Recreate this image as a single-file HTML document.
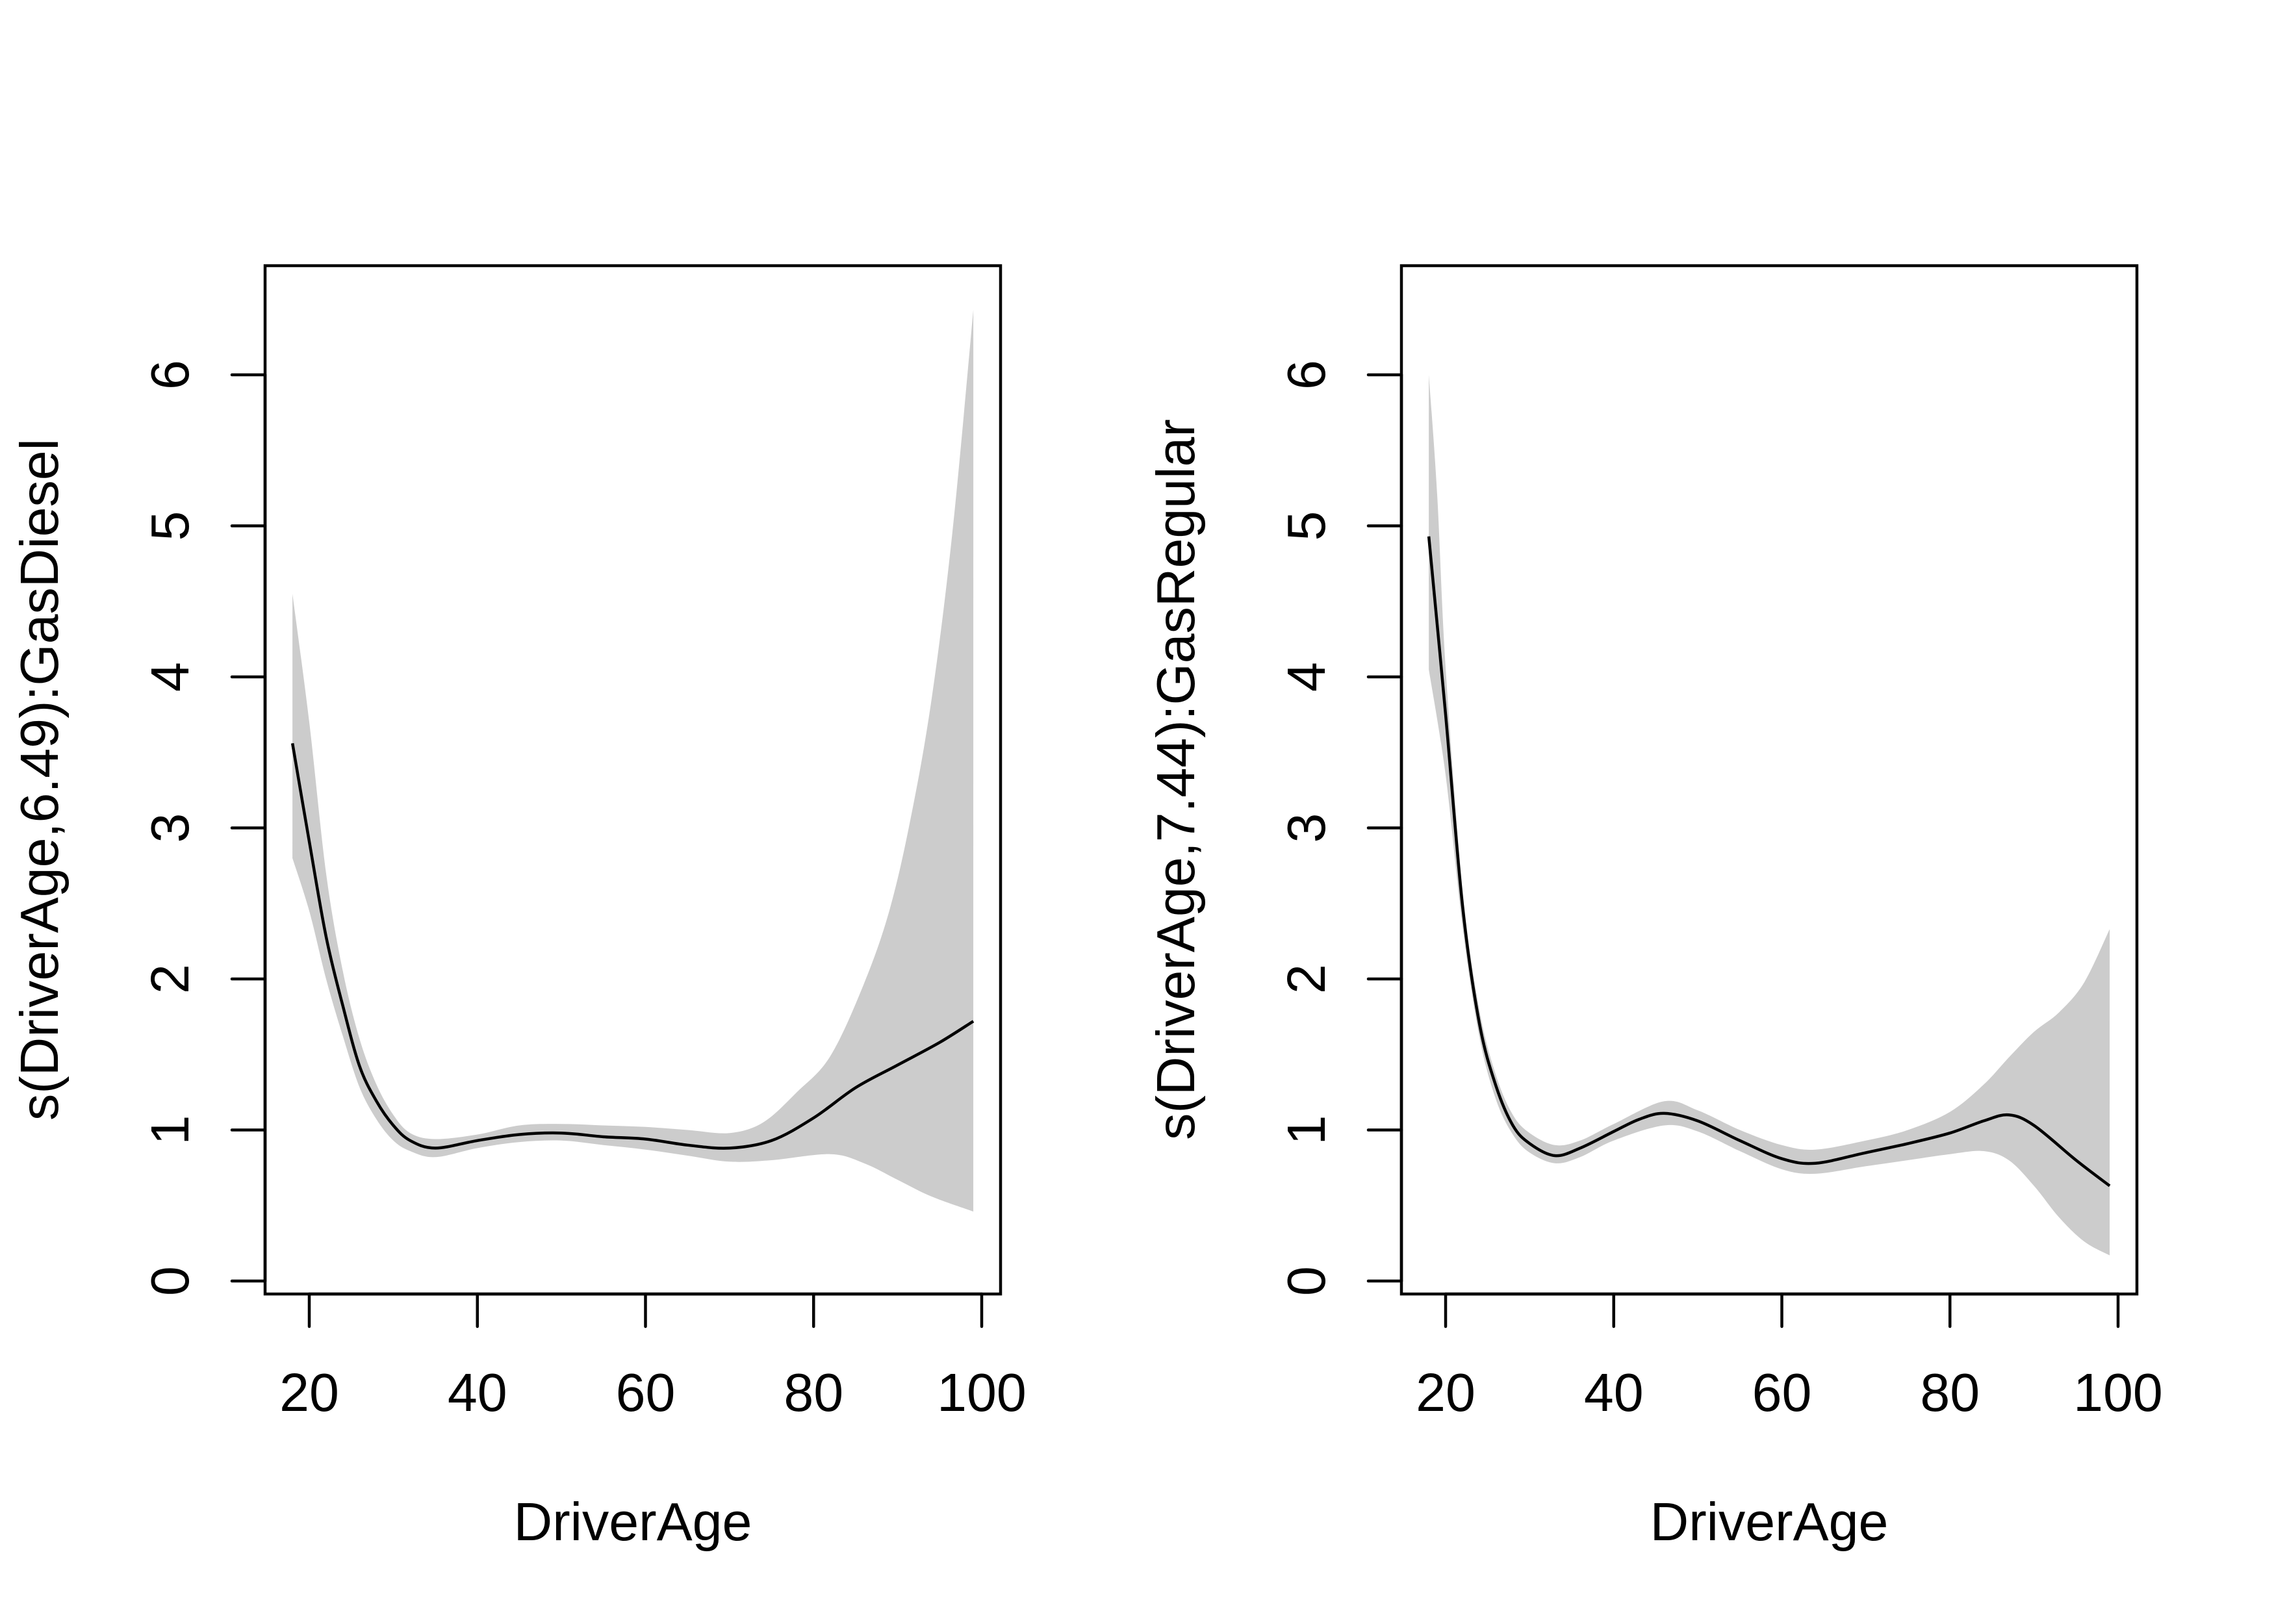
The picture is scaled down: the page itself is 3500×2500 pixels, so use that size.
<!DOCTYPE html>
<html><head><meta charset="utf-8"><style>
html,body{margin:0;padding:0;background:#fff;}
svg{display:block;}
text{font-family:"Liberation Sans",Arial,sans-serif;font-size:82.5px;fill:#000;}
</style></head><body>
<svg id="chart" width="3500" height="2500" viewBox="0 0 3500 2500" xmlns="http://www.w3.org/2000/svg"></svg>
<script>
// Panel 1: s(DriverAge,6.49):GasDiesel
const ages1 = [18,20,22,24,26,28,30,32,35,40,45,50,55,60,65,70,75,80,85,90,95,99];
const fit1  = [3.56,2.91,2.28,1.82,1.42,1.19,1.03,0.93,0.88,0.93,0.97,0.98,0.955,0.94,0.9,0.88,0.93,1.08,1.28,1.43,1.58,1.72];
const upAges1 = [18,20,22,24,26,28,30,32,35,40,45,50,55,60,65,70,74,78,82,86,89,91.5,94,96.5,99];
const upper1  = [4.55,3.7,2.7,2.05,1.6,1.3,1.1,0.98,0.94,0.97,1.03,1.04,1.03,1.02,1.0,0.98,1.05,1.25,1.49,1.97,2.45,3.05,3.84,4.95,6.43];
const loAges1 = [18,20,22,24,26,28,30,32,35,40,45,50,55,60,65,70,75,82,86,90,94,99];
const lower1  = [2.8,2.45,2.0,1.62,1.28,1.07,0.93,0.86,0.82,0.88,0.92,0.93,0.9,0.87,0.83,0.79,0.8,0.84,0.78,0.67,0.56,0.46];
// Panel 2: s(DriverAge,7.44):GasRegular
const ages2 = [18,20,22,24,26,28,30,33,36,40,43,46,50,55,60,64,70,75,80,84,87,90,95,99];
const fit2  = [4.93,3.75,2.49,1.71,1.29,1.03,0.91,0.83,0.88,0.99,1.07,1.11,1.06,0.93,0.81,0.78,0.85,0.91,0.98,1.06,1.10,1.03,0.80,0.63];
const upAges2 = [18,19,20,22,24,26,28,30,33,36,40,46,50,55,60,64,70,75,80,84,87,90,93,96,99];
const upper2  = [6.0,5.2,4.06,2.6,1.8,1.36,1.1,0.98,0.9,0.93,1.04,1.19,1.13,1.0,0.9,0.87,0.93,1.0,1.12,1.3,1.48,1.65,1.78,1.98,2.33];
const loAges2 = [18,20,22,24,26,28,30,33,36,40,46,50,55,60,64,70,75,80,84,87,90,93,96,99];
const lower2  = [4.05,3.35,2.35,1.62,1.2,0.97,0.85,0.78,0.82,0.93,1.03,0.99,0.86,0.74,0.71,0.76,0.8,0.84,0.86,0.8,0.63,0.42,0.26,0.17];
const xTicks = [20,40,60,80,100];
const yTicks = [0,1,2,3,4,5,6];

const NS = "http://www.w3.org/2000/svg";
const svg = document.getElementById('chart');
function mk(tag, attrs, parent){
  const e = document.createElementNS(NS, tag);
  for (const k in attrs) e.setAttribute(k, attrs[k]);
  (parent||svg).appendChild(e);
  return e;
}
function spline(p){
  let d = '';
  for (let i = 0; i < p.length-1; i++){
    const p0 = p[i-1]||p[i], p1 = p[i], p2 = p[i+1], p3 = p[i+2]||p[i+1];
    const c1x = p1[0] + (p2[0]-p0[0])/6, c1y = p1[1] + (p2[1]-p0[1])/6;
    const c2x = p2[0] - (p3[0]-p1[0])/6, c2y = p2[1] - (p3[1]-p1[1])/6;
    d += ' C'+c1x.toFixed(1)+','+c1y.toFixed(1)+' '+c2x.toFixed(1)+','+c2y.toFixed(1)+' '+p2[0].toFixed(1)+','+p2[1].toFixed(1);
  }
  return d;
}
function panel(off, name, ylabel, ages, fit, upA, up, loA, lo){
  const g = mk('g', {});
  
  
  const X = v => off + 476 + (v - 20) * (1511 - 476) / 80;
  const Y = v => 1972 - v * (1972 - 577) / 6;
  const upP = upA.map((a,i)=>[X(a),Y(up[i])]);
  const loP = loA.map((a,i)=>[X(a),Y(lo[i])]).reverse();
  const dBand = 'M'+upP[0][0]+','+upP[0][1]+spline(upP)+' L'+loP[0][0]+','+loP[0][1]+spline(loP)+' Z';
  const band = mk('path', {d: dBand, fill:'#cccccc', stroke:'none'}, g);
  
  
  const fP = ages.map((a,i)=>[X(a),Y(fit[i])]);
  const line = mk('path', {d: 'M'+fP[0][0]+','+fP[0][1]+spline(fP), fill:'none', stroke:'#000', 'stroke-width':4.5, 'stroke-linejoin':'round'}, g);
  
  
  const box = mk('rect', {x: off+408, y:409, width:1132, height:1583, fill:'none', stroke:'#000', 'stroke-width':4.5}, g);
  
  
  const xa = mk('g', {}, g);
  
  
  mk('line', {x1:X(xTicks[0]), x2:X(xTicks[xTicks.length-1]), y1:1992, y2:1992, stroke:'#000','stroke-width':4.5,'stroke-linecap':'round'}, xa);
  xTicks.forEach(t=>{
    mk('line', {x1:X(t), x2:X(t), y1:1992, y2:2042, stroke:'#000','stroke-width':4.5,'stroke-linecap':'round'}, xa);
    const tx = mk('text', {x:X(t), y:2172, 'text-anchor':'middle'}, xa);
    tx.textContent = t;
    
    
  });
  const ya = mk('g', {}, g);
  
  
  mk('line', {x1:off+408, x2:off+408, y1:Y(0), y2:Y(6), stroke:'#000','stroke-width':4.5,'stroke-linecap':'round'}, ya);
  yTicks.forEach(t=>{
    mk('line', {x1:off+357, x2:off+408, y1:Y(t), y2:Y(t), stroke:'#000','stroke-width':4.5,'stroke-linecap':'round'}, ya);
    const tx = mk('text', {x:off+290, y:Y(t), 'text-anchor':'middle', transform:'rotate(-90 '+(off+290)+' '+Y(t)+')'}, ya);
    tx.textContent = t;
    
    
  });
  const xt = mk('text', {x: off+974, y:2371, 'text-anchor':'middle'}, g);
  xt.textContent = 'DriverAge';
  
  
  const yt = mk('text', {x: off+89, y:1200, 'text-anchor':'middle', transform:'rotate(-90 '+(off+89)+' 1200)'}, g);
  yt.textContent = ylabel;
  
  
}
panel(0, 'diesel-panel', 's(DriverAge,6.49):GasDiesel', ages1, fit1, upAges1, upper1, loAges1, lower1);
panel(1749, 'regular-panel', 's(DriverAge,7.44):GasRegular', ages2, fit2, upAges2, upper2, loAges2, lower2);
</script>
</body></html>
